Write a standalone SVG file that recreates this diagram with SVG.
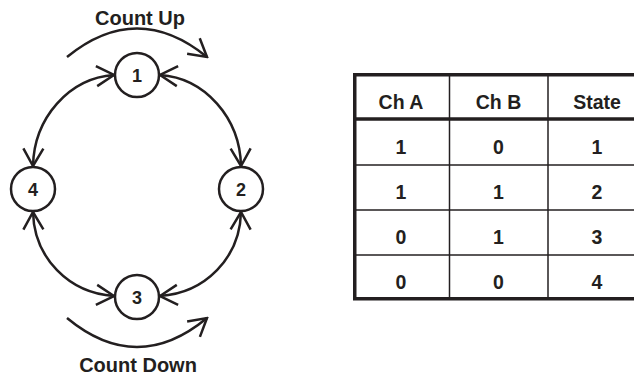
<svg xmlns="http://www.w3.org/2000/svg" width="634" height="375" viewBox="0 0 634 375">
<style>
.t{font-family:"Liberation Sans",Arial,sans-serif;font-weight:bold;fill:#231f20;text-anchor:middle}
.lbl{font-size:20px}
.num{font-size:18px}
.cell{font-size:19.5px}
.node{fill:#fff;stroke:#231f20;stroke-width:2.5}
.edge{fill:none;stroke:#231f20;stroke-width:2.5}
.thin{stroke:#231f20;stroke-width:1.5}
.thick{stroke:#231f20;stroke-width:3.5}
</style>
<defs>
<marker id="ah" markerUnits="userSpaceOnUse" viewBox="-22 -12 24 24" refX="0" refY="0" markerWidth="24" markerHeight="24" orient="auto-start-reverse">
<path d="M-17.5,-10 L0,0 L-17.5,10" fill="none" stroke="#231f20" stroke-width="2.5" stroke-linejoin="miter"/>
</marker>
</defs>
<g id="connectors">
<path class="edge" d="M160,75 C205,78 240,118 241,166" marker-start="url(#ah)" marker-end="url(#ah)"/>
<path class="edge" d="M114,75 C69,78 34,118 33,166" marker-start="url(#ah)" marker-end="url(#ah)"/>
<path class="edge" d="M241,212 C240,258 205,293 160,296" marker-start="url(#ah)" marker-end="url(#ah)"/>
<path class="edge" d="M33,212 C34,258 69,293 114,296" marker-start="url(#ah)" marker-end="url(#ah)"/>
<path class="edge" d="M67,57 Q137,0 207,57" marker-end="url(#ah)"/>
<path class="edge" d="M67,318 Q137,376 207,318" marker-end="url(#ah)"/>
</g>
<g id="label-count-up"><text class="t lbl" x="140" y="25">Count Up</text></g>
<g id="label-count-down"><text class="t lbl" x="138" y="372">Count Down</text></g>
<g id="node-1"><circle class="node" cx="137" cy="75" r="22"/><text class="t num" x="137" y="82">1</text></g>
<g id="node-2"><circle class="node" cx="241" cy="189" r="22"/><text class="t num" x="241" y="196">2</text></g>
<g id="node-3"><circle class="node" cx="137" cy="297" r="22"/><text class="t num" x="137" y="304">3</text></g>
<g id="node-4"><circle class="node" cx="33" cy="189" r="22"/><text class="t num" x="33" y="196">4</text></g>
<g id="table">
<line class="thin" x1="354" y1="165" x2="636" y2="165"/>
<line class="thin" x1="354" y1="210" x2="636" y2="210"/>
<line class="thin" x1="354" y1="255" x2="636" y2="255"/>
<line class="thin" x1="449.5" y1="74" x2="449.5" y2="299"/>
<line class="thin" x1="548" y1="74" x2="548" y2="299"/>
<line class="thick" x1="354" y1="119" x2="636" y2="119"/>
<rect x="354.75" y="74.75" width="290" height="224" fill="none" stroke="#231f20" stroke-width="3.5"/>
<text class="t cell" x="401" y="109">Ch A</text>
<text class="t cell" x="498.5" y="109">Ch B</text>
<text class="t cell" x="597" y="109">State</text>
<text class="t cell" x="401" y="154">1</text><text class="t cell" x="498.5" y="154">0</text><text class="t cell" x="597" y="154">1</text>
<text class="t cell" x="401" y="199">1</text><text class="t cell" x="498.5" y="199">1</text><text class="t cell" x="597" y="199">2</text>
<text class="t cell" x="401" y="244">0</text><text class="t cell" x="498.5" y="244">1</text><text class="t cell" x="597" y="244">3</text>
<text class="t cell" x="401" y="289">0</text><text class="t cell" x="498.5" y="289">0</text><text class="t cell" x="597" y="289">4</text>
</g>
</svg>
